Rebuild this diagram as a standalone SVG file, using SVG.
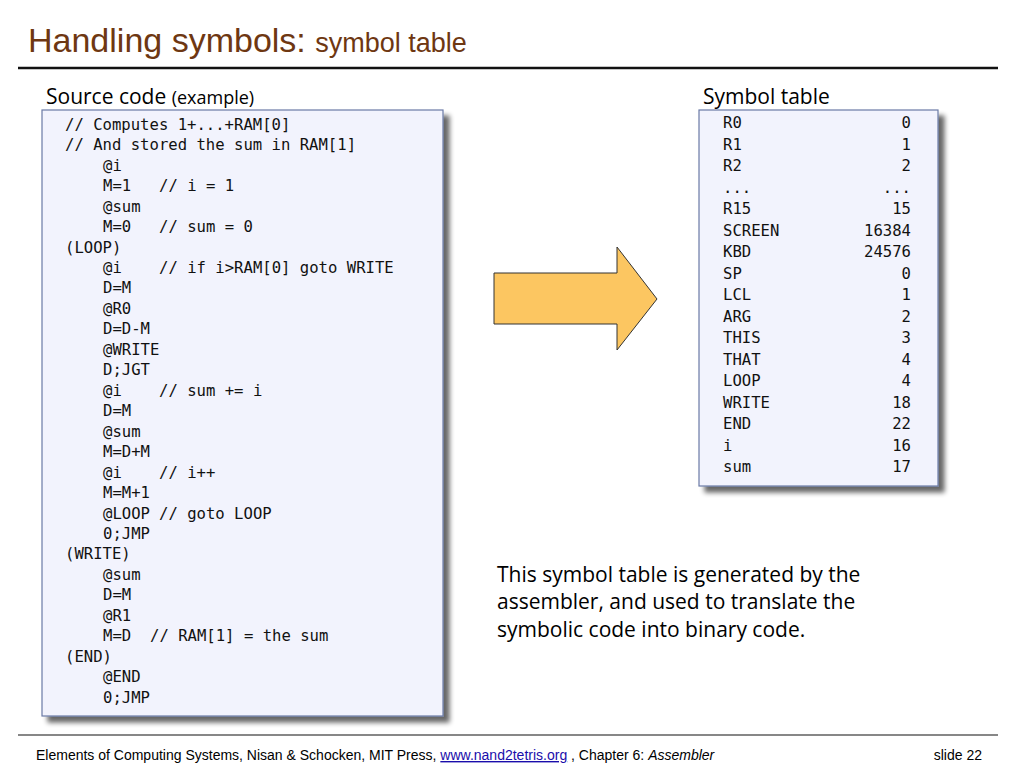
<svg xmlns="http://www.w3.org/2000/svg" width="1024" height="768" viewBox="0 0 1024 768">
<defs>
<filter id="sh" x="-10%" y="-10%" width="130%" height="130%"><feGaussianBlur in="SourceAlpha" stdDeviation="2.5"/><feOffset dx="6" dy="6"/><feComponentTransfer><feFuncA type="linear" slope="0.6"/></feComponentTransfer><feMerge><feMergeNode/><feMergeNode in="SourceGraphic"/></feMerge></filter>
</defs>
<style>
.m{font-family:"DejaVu Sans Mono","Liberation Mono",monospace;font-size:15.6px;fill:#111}
.s{font-family:"Liberation Sans",Arial,sans-serif}
.h{font-family:"Open Sans","Noto Sans",sans-serif;fill:#000}
.box{fill:#f2f3fd;stroke:#6a7aa6;stroke-width:1.2}
</style>
<rect width="1024" height="768" fill="#fff"/>
<text x="28" y="52" class="s" font-size="34" fill="#6e3712">Handling symbols: <tspan font-size="27">symbol table</tspan></text>
<line x1="18" y1="68" x2="998" y2="68" stroke="#111" stroke-width="2.5"/>
<text x="46" y="104" class="h" font-size="21">Source code <tspan font-size="18">(example)</tspan></text>
<text x="703" y="104" class="h" font-size="21">Symbol table</text>
<g id="source">
<rect x="42" y="110" width="401" height="606" class="box" filter="url(#sh)"/>
<g class="m">
<text x="65" y="130">// Computes 1+...+RAM[0]</text>
<text x="65" y="150">// And stored the sum in RAM[1]</text>
<text x="103" y="171">@i</text>
<text x="103" y="191">M=1<tspan x="159">// i = 1</tspan></text>
<text x="103" y="212">@sum</text>
<text x="103" y="232">M=0<tspan x="159">// sum = 0</tspan></text>
<text x="65" y="253">(LOOP)</text>
<text x="103" y="273">@i<tspan x="159">// if i&gt;RAM[0] goto WRITE</tspan></text>
<text x="103" y="293">D=M</text>
<text x="103" y="314">@R0</text>
<text x="103" y="334">D=D-M</text>
<text x="103" y="355">@WRITE</text>
<text x="103" y="375">D;JGT</text>
<text x="103" y="396">@i<tspan x="159">// sum += i</tspan></text>
<text x="103" y="416">D=M</text>
<text x="103" y="437">@sum</text>
<text x="103" y="457">M=D+M</text>
<text x="103" y="478">@i<tspan x="159">// i++</tspan></text>
<text x="103" y="498">M=M+1</text>
<text x="103" y="519">@LOOP<tspan x="159">// goto LOOP</tspan></text>
<text x="103" y="539">0;JMP</text>
<text x="65" y="559">(WRITE)</text>
<text x="103" y="580">@sum</text>
<text x="103" y="600">D=M</text>
<text x="103" y="621">@R1</text>
<text x="103" y="641">M=D<tspan x="150">// RAM[1] = the sum</tspan></text>
<text x="65" y="662">(END)</text>
<text x="103" y="682">@END</text>
<text x="103" y="703">0;JMP</text>
</g>
</g>
<g id="arrow">
<polygon points="494,273 617,273 617,247 657,299 617,350 617,324 494,324" fill="#fcc661" stroke="#333" stroke-width="1"/>
</g>
<g id="symtable">
<rect x="699" y="110" width="239" height="376" class="box" filter="url(#sh)"/>
<g class="m">
<text x="723" y="128">R0</text><text x="911" y="128" text-anchor="end">0</text>
<text x="723" y="150">R1</text><text x="911" y="150" text-anchor="end">1</text>
<text x="723" y="171">R2</text><text x="911" y="171" text-anchor="end">2</text>
<text x="723" y="193">...</text><text x="911" y="193" text-anchor="end">...</text>
<text x="723" y="214">R15</text><text x="911" y="214" text-anchor="end">15</text>
<text x="723" y="236">SCREEN</text><text x="911" y="236" text-anchor="end">16384</text>
<text x="723" y="257">KBD</text><text x="911" y="257" text-anchor="end">24576</text>
<text x="723" y="279">SP</text><text x="911" y="279" text-anchor="end">0</text>
<text x="723" y="300">LCL</text><text x="911" y="300" text-anchor="end">1</text>
<text x="723" y="322">ARG</text><text x="911" y="322" text-anchor="end">2</text>
<text x="723" y="343">THIS</text><text x="911" y="343" text-anchor="end">3</text>
<text x="723" y="365">THAT</text><text x="911" y="365" text-anchor="end">4</text>
<text x="723" y="386">LOOP</text><text x="911" y="386" text-anchor="end">4</text>
<text x="723" y="408">WRITE</text><text x="911" y="408" text-anchor="end">18</text>
<text x="723" y="429">END</text><text x="911" y="429" text-anchor="end">22</text>
<text x="723" y="451">i</text><text x="911" y="451" text-anchor="end">16</text>
<text x="723" y="472">sum</text><text x="911" y="472" text-anchor="end">17</text>
</g>
</g>
<g class="h" font-size="21">
<text x="497" y="582">This symbol table is generated by the</text>
<text x="497" y="609">assembler, and used to translate the</text>
<text x="497" y="637">symbolic code into binary code.</text>
</g>
<line x1="18" y1="735" x2="998" y2="735" stroke="#111" stroke-width="1.2"/>
<text x="36" y="760" class="s" font-size="14" fill="#000">Elements of Computing Systems, Nisan &amp; Schocken, MIT Press, <tspan fill="#1a0dab" text-decoration="underline">www.nand2tetris.org</tspan> , Chapter 6: <tspan font-style="italic">Assembler</tspan></text>
<text x="982" y="760" class="s" font-size="14" text-anchor="end">slide 22</text>
</svg>
